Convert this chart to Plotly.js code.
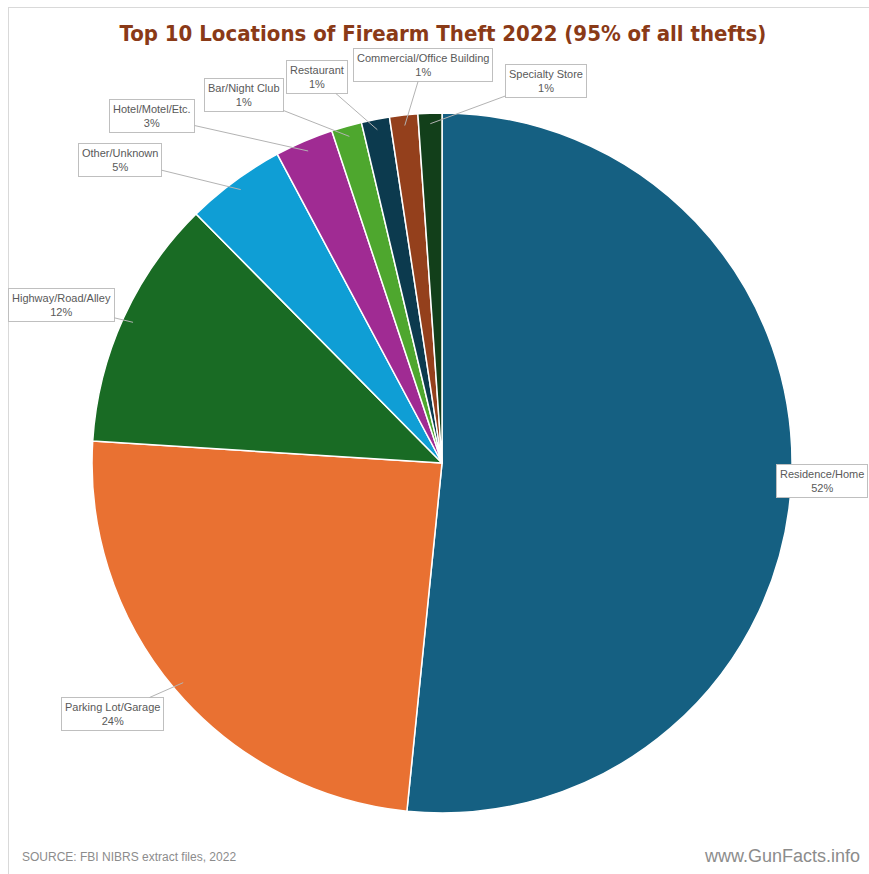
<!DOCTYPE html>
<html>
<head>
<meta charset="utf-8">
<script src="https://cdn.plot.ly/plotly-3.0.1.min.js"></script>
<style>html,body{margin:0;padding:0;background:#fff;}#chart{width:869px;height:874px;}</style>
</head>
<body>
<div id="chart"></div>
<script>
// ---- data ----
const categories = ['Residence/Home','Parking Lot/Garage','Highway/Road/Alley','Other/Unknown','Hotel/Motel/Etc.','Bar/Night Club','Restaurant','Commercial/Office Building','Specialty Store'];
const shares = [51.6, 24.4, 11.6, 4.6, 2.7, 1.4, 1.3, 1.3, 1.1];
const sliceColors = ['#156082','#e97132','#196b24','#0f9ed5','#a02b93','#4ea72e','#0c3a4e','#94401c','#123f1a'];

// ---- layout/style ----
const W = 869, H = 874;
const dom = {x:[0.1059, 0.9114], y:[0.0698, 0.8707]};
// label box centres in page pixels (style / placement only)
const labelBoxes = [[822,481],[112,714],[61,305],[120,160],[152,116],[244,95],[317,77],[423,65],[546,81]];
const noArrow = [true,false,false,false,false,false,false,false,false];

const total = shares.reduce((a,b)=>a+b,0);
const cx = (dom.x[0]+dom.x[1])/2*W;
const cy = (1-(dom.y[0]+dom.y[1])/2)*H;
const R = Math.min((dom.x[1]-dom.x[0])*W, (dom.y[1]-dom.y[0])*H)/2;

const annotations = [];
let cum = 0;
categories.forEach((c,i)=>{
  const frac = (cum + shares[i]/2)/total;
  cum += shares[i];
  const th = 2*Math.PI*frac;
  const hx = cx + 0.97*R*Math.sin(th);
  const hy = cy - 0.97*R*Math.cos(th);
  const pct = Math.round(shares[i]/total*100) + '%';
  const [bx,by] = labelBoxes[i];
  const base = {
    text: c + '<br>' + pct,
    font:{family:'Liberation Sans, Arial, sans-serif', size:11, color:'#595959'},
    bordercolor:'#bfbfbf', borderwidth:1, borderpad:3, bgcolor:'#ffffff',
    xref:'paper', yref:'paper', align:'center'
  };
  if (noArrow[i]) {
    annotations.push(Object.assign(base,{x:bx/W, y:1-by/H, showarrow:false, xanchor:'center', yanchor:'middle'}));
  } else {
    annotations.push(Object.assign(base,{x:hx/W, y:1-hy/H, showarrow:true, arrowhead:0, arrowwidth:1,
      arrowcolor:'#b3b3b3', standoff:0, ax:bx-hx, ay:by-hy, axref:'pixel', ayref:'pixel'}));
  }
});

annotations.push({text:'SOURCE: FBI NIBRS extract files, 2022', xref:'paper', yref:'paper', x:20/W, y:1-857/H,
  xanchor:'left', yanchor:'middle', showarrow:false,
  font:{family:'Liberation Sans, Arial, sans-serif', size:12, color:'#8c8c8c'}});
annotations.push({text:'www.GunFacts.info', xref:'paper', yref:'paper', x:862/W, y:1-856/H,
  xanchor:'right', yanchor:'middle', showarrow:false,
  font:{family:'Liberation Sans, Arial, sans-serif', size:18, color:'#8c8c8c'}});

const trace = {
  type:'pie', labels:categories, values:shares, sort:false, direction:'clockwise', rotation:0,
  marker:{colors:sliceColors, line:{color:'#ffffff', width:1.5}},
  textinfo:'none', hoverinfo:'label+percent', domain:dom, showlegend:false
};

const layout = {
  width:W, height:H, margin:{l:0,r:0,t:0,b:0},
  paper_bgcolor:'#ffffff', plot_bgcolor:'#ffffff', showlegend:false,
  title:{text:'<b>Top 10 Locations of Firearm Theft 2022 (95% of all thefts)</b>', x:443/W, xanchor:'center',
    y:1-33/H, yanchor:'middle', yref:'container',
    font:{family:'DejaVu Sans Condensed, DejaVu Sans, sans-serif', size:22, color:'#8a3a17'}},
  shapes:[
    {type:'line', xref:'paper', yref:'paper', x0:8.5/W, x1:8.5/W, y0:0, y1:1-7/H, line:{color:'#d9d9d9', width:1}},
    {type:'line', xref:'paper', yref:'paper', x0:8.5/W, x1:1, y0:1-7.5/H, y1:1-7.5/H, line:{color:'#d9d9d9', width:1}}
  ],
  annotations:annotations
};

Plotly.newPlot('chart',[trace],layout,{displayModeBar:false, staticPlot:true});
</script>
</body>
</html>
